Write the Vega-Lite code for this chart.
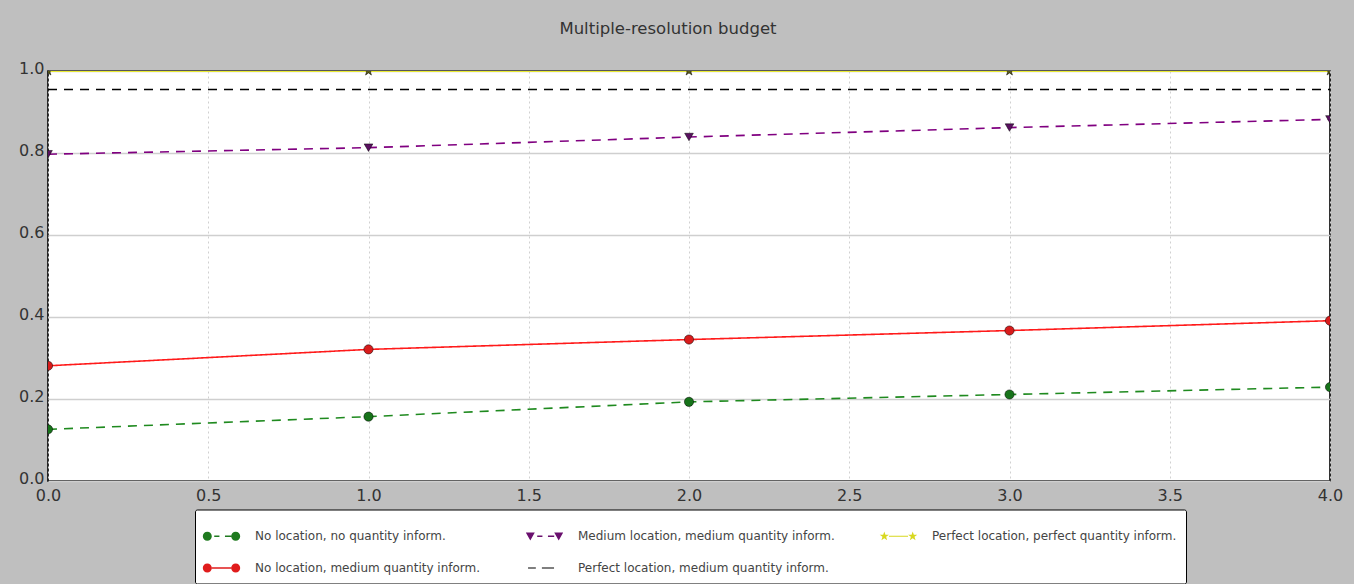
{
  "$schema": "https://vega.github.io/schema/vega-lite/v6.json",
  "width": 1282,
  "height": 410,
  "autosize": {"type": "none"},
  "padding": {"left": 48, "top": 71, "right": 24, "bottom": 103},
  "background": "#bfbfbf",
  "title": {"text": "Multiple-resolution budget", "anchor": "middle", "dx": -21, "offset": 23, "fontSize": 16.5, "fontWeight": "normal", "color": "#333333", "font": "DejaVu Sans"},
  "data": {"values": [
    {"series": "No location, no quantity inform.", "x": 0, "y": 0.126},
    {"series": "No location, no quantity inform.", "x": 1, "y": 0.157},
    {"series": "No location, no quantity inform.", "x": 2, "y": 0.193},
    {"series": "No location, no quantity inform.", "x": 3, "y": 0.211},
    {"series": "No location, no quantity inform.", "x": 4, "y": 0.229},
    {"series": "No location, medium quantity inform.", "x": 0, "y": 0.281},
    {"series": "No location, medium quantity inform.", "x": 1, "y": 0.321},
    {"series": "No location, medium quantity inform.", "x": 2, "y": 0.345},
    {"series": "No location, medium quantity inform.", "x": 3, "y": 0.367},
    {"series": "No location, medium quantity inform.", "x": 4, "y": 0.391},
    {"series": "Medium location, medium quantity inform.", "x": 0, "y": 0.797},
    {"series": "Medium location, medium quantity inform.", "x": 1, "y": 0.813},
    {"series": "Medium location, medium quantity inform.", "x": 2, "y": 0.839},
    {"series": "Medium location, medium quantity inform.", "x": 3, "y": 0.862},
    {"series": "Medium location, medium quantity inform.", "x": 4, "y": 0.882},
    {"series": "Perfect location, medium quantity inform.", "x": 0, "y": 0.955},
    {"series": "Perfect location, medium quantity inform.", "x": 1, "y": 0.955},
    {"series": "Perfect location, medium quantity inform.", "x": 2, "y": 0.955},
    {"series": "Perfect location, medium quantity inform.", "x": 3, "y": 0.955},
    {"series": "Perfect location, medium quantity inform.", "x": 4, "y": 0.955},
    {"series": "Perfect location, perfect quantity inform.", "x": 0, "y": 1.0},
    {"series": "Perfect location, perfect quantity inform.", "x": 1, "y": 1.0},
    {"series": "Perfect location, perfect quantity inform.", "x": 2, "y": 1.0},
    {"series": "Perfect location, perfect quantity inform.", "x": 3, "y": 1.0},
    {"series": "Perfect location, perfect quantity inform.", "x": 4, "y": 1.0}
  ]},
  "encoding": {
    "x": {"field": "x", "type": "quantitative", "scale": {"domain": [0, 4], "nice": false, "zero": false},
      "axis": {"title": null, "values": [0, 0.5, 1, 1.5, 2, 2.5, 3, 3.5, 4], "format": ".1f", "ticks": false, "domain": false, "grid": true, "gridDash": [2, 3], "gridColor": "#d0d0d0", "gridWidth": 1, "labelPadding": 6, "labelFlush": false}},
    "y": {"field": "y", "type": "quantitative", "scale": {"domain": [0, 1], "nice": false, "zero": false},
      "axis": {"title": null, "values": [0, 0.2, 0.4, 0.6, 0.8, 1], "format": ".1f", "ticks": false, "domain": false, "grid": true, "gridColor": "#cfcfcf", "gridWidth": 1.3, "labelPadding": 4, "labelOffset": -3, "labelFlush": false}}
  },
  "layer": [
    {
      "mark": {"type": "line", "strokeWidth": 1.6, "clip": true},
      "encoding": {
        "stroke": {"field": "series", "type": "nominal", "legend": null,
          "scale": {"domain": ["Medium location, medium quantity inform.", "No location, medium quantity inform.", "No location, no quantity inform.", "Perfect location, medium quantity inform.", "Perfect location, perfect quantity inform."],
            "range": ["#800080", "#ff1a1a", "#1f8a1f", "#000000", "#f2f200"]}},
        "strokeDash": {"field": "series", "type": "nominal", "legend": null,
          "scale": {"domain": ["Medium location, medium quantity inform.", "No location, medium quantity inform.", "No location, no quantity inform.", "Perfect location, medium quantity inform.", "Perfect location, perfect quantity inform."],
            "range": [[9, 7], [1, 0], [9, 7], [9, 7], [1, 0]]}}
      }
    },
    {
      "transform": [{"filter": {"field": "series", "oneOf": ["No location, no quantity inform.", "No location, medium quantity inform."]}}],
      "mark": {"type": "point", "shape": "circle", "filled": true, "size": 85, "opacity": 1, "stroke": "#000000", "strokeWidth": 0.5, "clip": true},
      "encoding": {"fill": {"field": "series", "type": "nominal", "legend": null,
        "scale": {"domain": ["Medium location, medium quantity inform.", "No location, medium quantity inform.", "No location, no quantity inform.", "Perfect location, medium quantity inform.", "Perfect location, perfect quantity inform."],
          "range": ["#5a1060", "#d81c1c", "#17731a", "#000000", "#5c5c1a"]}}}
    },
    {
      "transform": [{"filter": {"field": "series", "equal": "Medium location, medium quantity inform."}}],
      "mark": {"type": "point", "shape": "triangle-down", "filled": true, "size": 75, "opacity": 1, "stroke": "#000000", "strokeWidth": 0.5, "clip": true},
      "encoding": {"fill": {"field": "series", "type": "nominal", "legend": null}}
    },
    {
      "transform": [{"filter": {"field": "series", "equal": "Perfect location, perfect quantity inform."}}],
      "mark": {"type": "point", "shape": "M0,-1L0.2245,-0.309L0.951,-0.309L0.363,0.118L0.588,0.809L0,0.382L-0.588,0.809L-0.363,0.118L-0.951,-0.309L-0.2245,-0.309Z", "filled": true, "size": 100, "opacity": 1, "stroke": "#000000", "strokeWidth": 0.5, "clip": true},
      "encoding": {"fill": {"field": "series", "type": "nominal", "legend": null}}
    },
    {
      "mark": {"type": "point", "filled": true, "size": 0, "opacity": 1, "clip": true},
      "encoding": {
        "color": {"field": "series", "type": "nominal", "legend": {"title": null, "orient": "none", "legendX": 147, "legendY": 438.5, "columns": 3, "direction": "horizontal"},
          "scale": {"domain": ["No location, no quantity inform.", "Medium location, medium quantity inform.", "Perfect location, perfect quantity inform.", "No location, medium quantity inform.", "Perfect location, medium quantity inform."],
            "range": ["#1f7a1f", "#6a106e", "#d8d820", "#e01c1c", "#000000"]}},
        "shape": {"field": "series", "type": "nominal", "legend": {"title": null, "orient": "none", "legendX": 147, "legendY": 438.5, "columns": 3, "direction": "horizontal"},
          "scale": {"domain": ["No location, no quantity inform.", "Medium location, medium quantity inform.", "Perfect location, perfect quantity inform.", "No location, medium quantity inform.", "Perfect location, medium quantity inform."],
            "range": [
              "M-1.08,0A0.26,0.26 0 1,0 -0.56,0A0.26,0.26 0 1,0 -1.08,0Z M-0.42,-0.04H-0.12V0.04H-0.42Z M0.2,-0.04H0.56V0.04H0.2Z M0.56,0A0.26,0.26 0 1,0 1.08,0A0.26,0.26 0 1,0 0.56,0Z",
              "M-1.08,-0.22L-0.56,-0.22L-0.82,0.24Z M-0.42,-0.04H-0.12V0.04H-0.42Z M0.2,-0.04H0.56V0.04H0.2Z M0.56,-0.22L1.08,-0.22L0.82,0.24Z",
              "M-0.82,-0.28L-0.755,-0.089L-0.554,-0.087L-0.715,0.034L-0.655,0.227L-0.82,0.11L-0.985,0.227L-0.925,0.034L-1.086,-0.087L-0.885,-0.089Z M-0.55,-0.035H0.55V0.035H-0.55Z M0.82,-0.28L0.885,-0.089L1.086,-0.087L0.925,0.034L0.985,0.227L0.82,0.11L0.655,0.227L0.715,0.034L0.554,-0.087L0.755,-0.089Z",
              "M-1.08,0A0.26,0.26 0 1,0 -0.56,0A0.26,0.26 0 1,0 -1.08,0Z M-0.56,-0.05H0.56V0.05H-0.56Z M0.56,0A0.26,0.26 0 1,0 1.08,0A0.26,0.26 0 1,0 0.56,0Z",
              "M-0.95,-0.035H-0.5V0.035H-0.95Z M-0.15,-0.035H0.55V0.035H-0.15Z"
            ]}}
      }
    }
  ],
  "config": {
    "view": {"fill": "white", "stroke": "#000000", "strokeWidth": 1.6},
    "axis": {"labelFont": "DejaVu Sans", "labelFontSize": 16, "labelColor": "#333333"},
    "legend": {"fillColor": "white", "strokeColor": "#000000", "padding": 9, "cornerRadius": 2, "symbolSize": 1200, "symbolStrokeWidth": 0, "labelFont": "DejaVu Sans", "labelFontSize": 12, "labelColor": "#444444", "labelOffset": 16, "columnPadding": 44, "rowPadding": 8, "labelLimit": 400}
  }
}
